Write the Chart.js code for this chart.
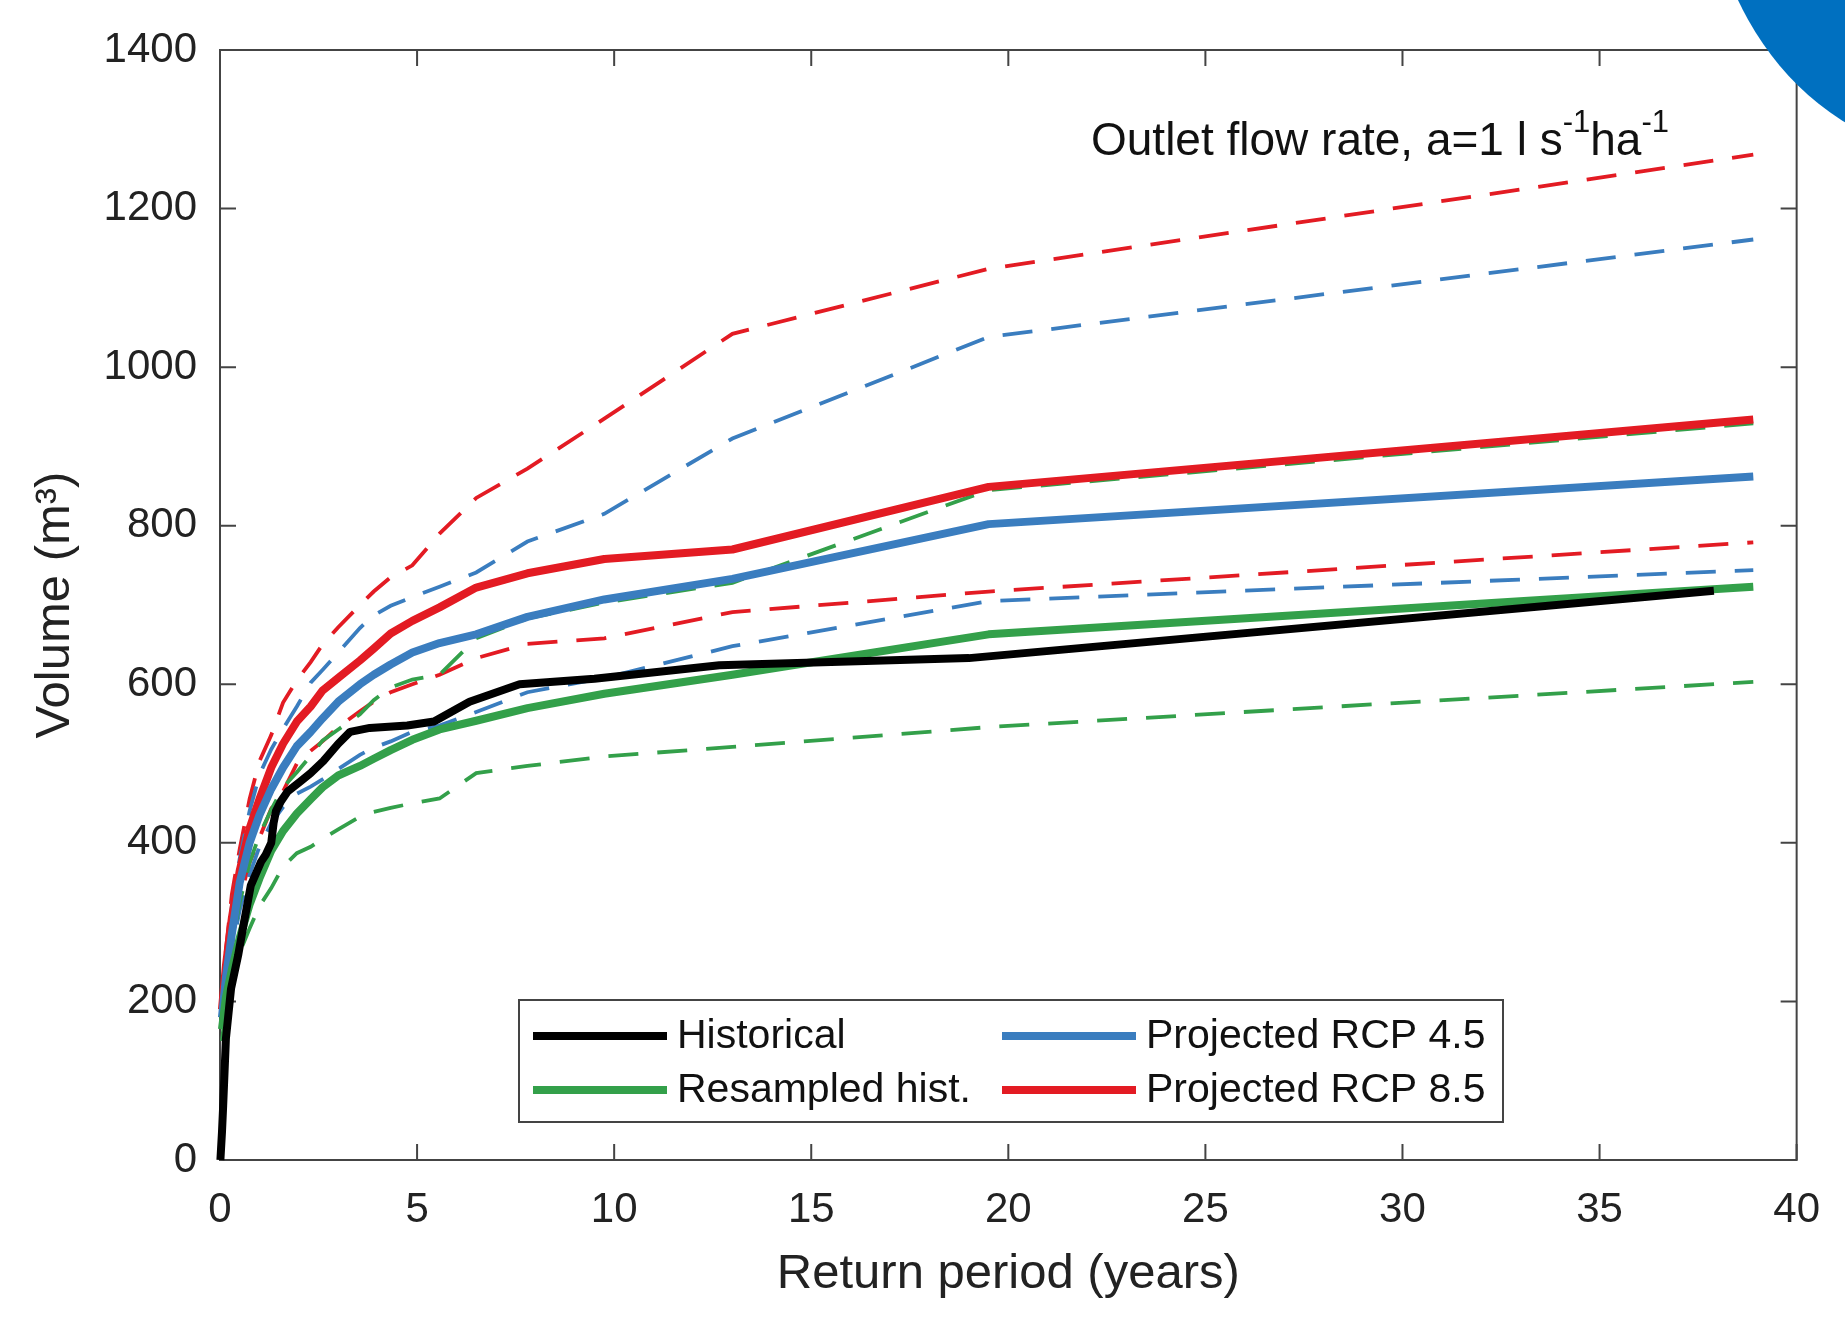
<!DOCTYPE html>
<html>
<head>
<meta charset="utf-8">
<script src="https://cdn.jsdelivr.net/npm/chart.js@4.4.0/dist/chart.umd.min.js"></script>
<style>
  html, body { margin: 0; padding: 0; background: #fff; }
  #wrap { width: 1845px; height: 1319px; position: relative; }
</style>
</head>
<body>
<div id="wrap"><canvas id="c" width="1845" height="1319"></canvas></div>
<script>
// return periods (years) shared by the 39-year series
const T39 = [0.05, 0.15, 0.3, 0.5, 0.75, 1.0, 1.3, 1.6, 1.95, 2.3, 2.6, 3.0, 3.55, 3.9, 4.33, 4.88, 5.57, 6.5, 7.8, 9.75, 13.0, 19.5, 38.9];

// historical record (38 years)
const histT = [0.01, 0.05, 0.08, 0.15, 0.28, 0.46, 0.61, 0.78, 1.04, 1.16, 1.3, 1.36, 1.42, 1.54, 1.72, 2.05, 2.3, 2.62, 3.0, 3.3, 3.8, 4.75, 5.43, 6.33, 7.6, 9.5, 12.67, 19.0, 37.9];
const histV = [0, 35, 68, 153, 216, 258, 300, 346, 376, 385, 400, 425, 440, 452, 465, 478, 488, 503, 525, 540, 545, 548, 553, 578, 600, 607, 624, 633, 718];

// volumes (m3), solid = median, Hi/Lo = dashed bounds
const resampMed = [165, 205, 240, 280, 322, 355, 390, 415, 437, 455, 470, 485, 497, 506, 517, 530, 543, 554, 570, 588, 612, 663, 723];
const resampHi  = [180, 225, 270, 325, 375, 410, 442, 470, 489, 510, 529, 543, 562, 580, 596, 606, 612, 658, 683, 703, 728, 845, 929];
const resampLo  = [150, 195, 230, 262, 292, 320, 343, 370, 387, 395, 405, 417, 433, 439, 444, 450, 456, 488, 497, 509, 521, 546, 603];

const rcp45Med = [180, 230, 285, 350, 400, 435, 468, 495, 522, 540, 557, 578, 600, 612, 625, 640, 652, 663, 685, 707, 733, 802, 862];
const rcp45Hi  = [190, 250, 320, 380, 440, 486, 518, 544, 572, 602, 618, 640, 671, 687, 699, 710, 723, 741, 780, 815, 910, 1038, 1161];
const rcp45Lo  = [175, 220, 265, 315, 360, 395, 425, 445, 462, 471, 480, 493, 511, 520, 528, 540, 548, 565, 590, 608, 648, 705, 744];

const rcp85Med = [190, 245, 305, 365, 418, 455, 495, 525, 553, 572, 592, 608, 630, 645, 664, 680, 697, 722, 740, 758, 770, 849, 934];
const rcp85Hi  = [200, 265, 335, 392, 455, 503, 536, 577, 605, 628, 650, 672, 700, 717, 735, 750, 790, 835, 872, 935, 1042, 1124, 1268];
const rcp85Lo  = [170, 220, 275, 330, 375, 406, 443, 465, 500, 516, 528, 546, 566, 578, 590, 600, 612, 633, 651, 658, 691, 717, 779];

const xTicks = [0, 5, 10, 15, 20, 25, 30, 35, 40];
const yTicks = [0, 200, 400, 600, 800, 1000, 1200, 1400];

const BLACK = '#000000', GREEN = '#33a04a', BLUE = '#3a7dbf', RED = '#e31b23';
const FONT = '"Liberation Sans", Arial, Helvetica, sans-serif';

const pts = (xs, ys) => xs.map((x, i) => ({x: x, y: ys[i]}));

function solid(label, xs, ys, color) {
  return {label, data: pts(xs, ys), borderColor: color, borderWidth: 8, pointRadius: 0,
    tension: 0, fill: false, clip: 8, borderJoinStyle: 'round', borderCapStyle: 'butt'};
}
function dashed(label, xs, ys, color) {
  return {label, data: pts(xs, ys), borderColor: color, borderWidth: 3.8, borderDash: [30, 19],
    pointRadius: 0, tension: 0, fill: false, clip: 8, borderCapStyle: 'butt'};
}

// frame with inward ticks on all four sides (matlab box)
const frame = {
  id: 'frame',
  beforeDatasetsDraw(chart) {
    const {ctx, chartArea: a, scales: {x, y}} = chart;
    ctx.save();
    ctx.strokeStyle = '#444';
    ctx.lineWidth = 2;
    ctx.strokeRect(a.left, a.top, a.right - a.left, a.bottom - a.top);
    const len = 16;
    ctx.beginPath();
    xTicks.forEach(v => {
      const px = x.getPixelForValue(v);
      ctx.moveTo(px, a.bottom); ctx.lineTo(px, a.bottom - len);
      ctx.moveTo(px, a.top); ctx.lineTo(px, a.top + len);
    });
    yTicks.forEach(v => {
      const py = y.getPixelForValue(v);
      ctx.moveTo(a.left, py); ctx.lineTo(a.left + len, py);
      ctx.moveTo(a.right, py); ctx.lineTo(a.right - len, py);
    });
    ctx.stroke();
    ctx.restore();
  },
  afterDraw(chart) {
    const {ctx} = chart;
    ctx.save();
    // annotation text with superscripts
    ctx.fillStyle = '#111';
    ctx.textBaseline = 'alphabetic';
    let cx = 1091, base = 155;
    const parts = [['Outlet flow rate, a=1 l s', 46, 0], ['-1', 31, -23], ['ha', 46, 0], ['-1', 31, -23]];
    parts.forEach(([t, s, dy]) => {
      ctx.font = s + 'px ' + FONT;
      ctx.fillText(t, cx, base + dy);
      cx += ctx.measureText(t).width;
    });

    // legend
    const lx = 519, ly = 1000, lw = 984, lh = 122;
    ctx.fillStyle = '#fff';
    ctx.fillRect(lx, ly, lw, lh);
    ctx.strokeStyle = '#444';
    ctx.lineWidth = 2;
    ctx.strokeRect(lx, ly, lw, lh);
    const items = [
      ['Historical', BLACK, 533, 1036], ['Resampled hist.', GREEN, 533, 1090],
      ['Projected RCP 4.5', BLUE, 1002, 1036], ['Projected RCP 8.5', RED, 1002, 1090]
    ];
    ctx.font = '41px ' + FONT;
    ctx.textBaseline = 'middle';
    items.forEach(([t, c, x0, yy]) => {
      ctx.strokeStyle = c;
      ctx.lineWidth = 8;
      ctx.beginPath(); ctx.moveTo(x0, yy); ctx.lineTo(x0 + 134, yy); ctx.stroke();
      ctx.fillStyle = '#111';
      ctx.fillText(t, x0 + 144, yy + 1);
    });

    // blue blob in the top right corner of the picture
    ctx.fillStyle = '#0070c0';
    ctx.beginPath();
    ctx.ellipse(1960, -150, 255, 305, 0, 0, Math.PI * 2);
    ctx.fill();
    ctx.restore();
  }
};

new Chart(document.getElementById('c'), {
  type: 'line',
  data: {
    datasets: [
      solid('Historical', histT, histV, BLACK),
      solid('Resampled hist.', T39, resampMed, GREEN),
      solid('Projected RCP 4.5', T39, rcp45Med, BLUE),
      solid('Projected RCP 8.5', T39, rcp85Med, RED),
      dashed('Resampled hist. upper', T39, resampHi, GREEN),
      dashed('Resampled hist. lower', T39, resampLo, GREEN),
      dashed('RCP 4.5 upper', T39, rcp45Hi, BLUE),
      dashed('RCP 4.5 lower', T39, rcp45Lo, BLUE),
      dashed('RCP 8.5 upper', T39, rcp85Hi, RED),
      dashed('RCP 8.5 lower', T39, rcp85Lo, RED)
    ]
  },
  options: {
    responsive: false,
    animation: false,
    devicePixelRatio: 1,
    layout: {padding: {top: 50, right: 44, left: 0, bottom: 0}},
    plugins: {legend: {display: false}, tooltip: {enabled: false}},
    scales: {
      x: {
        type: 'linear', min: 0, max: 40,
        afterFit: s => { s.height = 159; },
        afterBuildTicks: s => { s.ticks = xTicks.map(v => ({value: v})); },
        grid: {display: false, drawTicks: false},
        border: {display: false},
        ticks: {padding: 25, color: '#222', font: {family: FONT, size: 42}, maxRotation: 0,
          callback: v => String(v)},
        title: {display: true, text: 'Return period (years)', color: '#222',
          font: {family: FONT, size: 49}, padding: {top: 0, bottom: 15}}
      },
      y: {
        type: 'linear', min: 0, max: 1400,
        afterFit: s => { s.width = 220; },
        afterBuildTicks: s => { s.ticks = yTicks.map(v => ({value: v})); },
        grid: {display: false, drawTicks: false},
        border: {display: false},
        ticks: {padding: 23, color: '#222', font: {family: FONT, size: 42},
          callback: v => String(v)},
        title: {display: true, text: 'Volume (m³)', color: '#222',
          font: {family: FONT, size: 49}, padding: {top: 26, bottom: 0}}
      }
    }
  },
  plugins: [frame]
});
</script>
</body>
</html>
